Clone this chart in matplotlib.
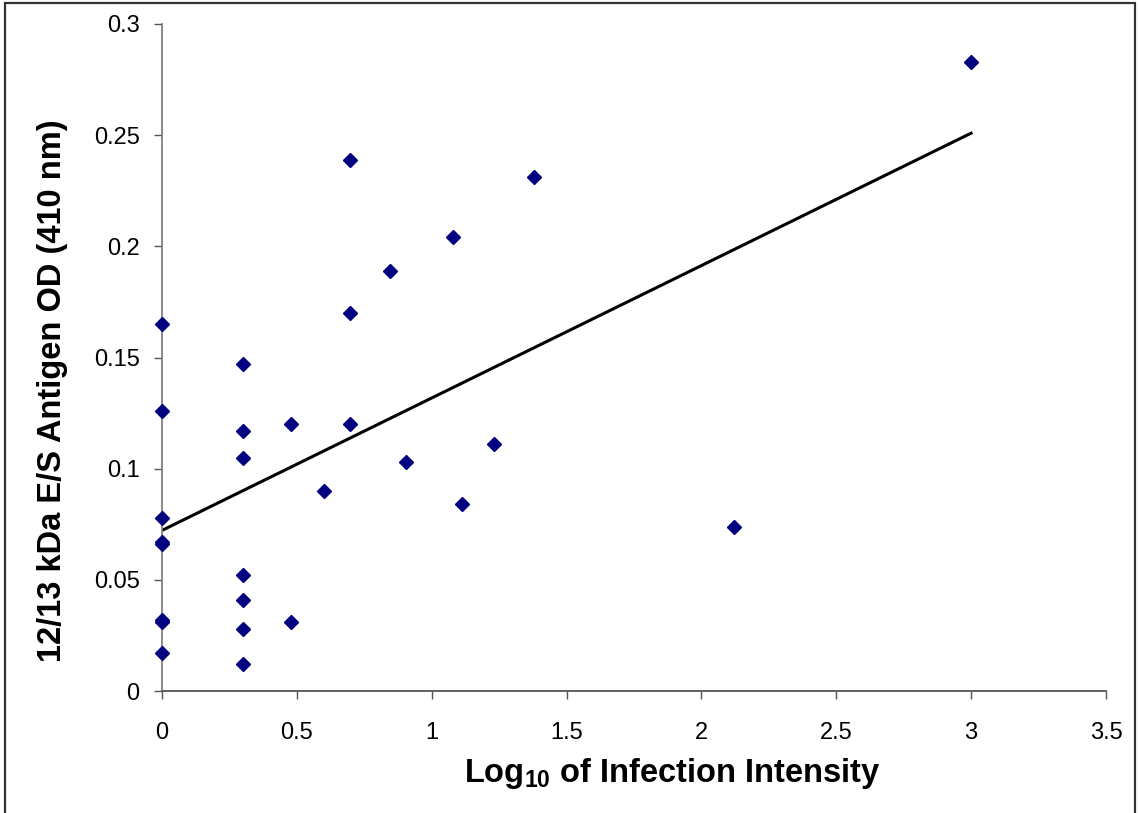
import matplotlib.pyplot as plt
import numpy as np
from matplotlib.patches import Rectangle
from matplotlib.ticker import FuncFormatter

plt.rcParams['font.family'] = ['Liberation Sans', 'DejaVu Sans']
plt.rcParams['mathtext.fontset'] = 'custom'
plt.rcParams['mathtext.rm'] = 'Liberation Sans'
plt.rcParams['mathtext.bf'] = 'Liberation Sans:bold'

# log10 of infection intensity vs antigen OD
log_intensity = [0, 0, 0, 0, 0, 0, 0, 0,
                 0.301, 0.301, 0.301, 0.301, 0.301, 0.301, 0.301,
                 0.477, 0.477, 0.602, 0.699, 0.699, 0.699,
                 0.845, 0.903, 1.079, 1.114, 1.230, 1.380, 2.121, 3.0]
od_410 = [0.165, 0.126, 0.078, 0.067, 0.066, 0.032, 0.031, 0.017,
          0.147, 0.117, 0.105, 0.052, 0.041, 0.028, 0.012,
          0.120, 0.031, 0.090, 0.239, 0.170, 0.120,
          0.189, 0.103, 0.204, 0.084, 0.111, 0.231, 0.074, 0.283]

x = np.array(log_intensity)
y = np.array(od_410)
slope, intercept = np.polyfit(x, y, 1)

fig = plt.figure(figsize=(11.39, 8.13), dpi=100)
ax = fig.add_axes([0.1422, 0.150, 0.8288, 0.8205])

ax.plot(x, y, 'D', color='#000080', ms=7.3, ls='none', clip_on=False, zorder=3)
xl = np.array([x.min(), x.max()])
ax.plot(xl, intercept + slope * xl, color='black', lw=2.2)

ax.set_xlim(0, 3.5)
ax.set_ylim(0, 0.3)
ax.set_xticks(np.arange(0, 3.51, 0.5))
ax.set_yticks(np.arange(0, 0.301, 0.05))
fmt = FuncFormatter(lambda v, p: '%g' % round(v, 3))
ax.xaxis.set_major_formatter(fmt)
ax.yaxis.set_major_formatter(fmt)
ax.tick_params(direction='out', length=6, width=1, labelsize=17, color='#555555')
ax.tick_params(axis='y', pad=10)
ax.tick_params(axis='x', pad=16)

for s in ['top', 'right']:
    ax.spines[s].set_visible(False)
ax.spines['left'].set_color('#808080')
ax.spines['bottom'].set_color('#555555')
ax.spines['left'].set_linewidth(1.3)
ax.spines['bottom'].set_linewidth(1.3)

ax.set_xlabel(r'Log$_\mathbf{10}$ of Infection Intensity', fontsize=23.5, fontweight='bold')
ax.set_ylabel('12/13 kDa E/S Antigen OD (410 nm)', fontsize=23.5, fontweight='bold')
ax.xaxis.set_label_coords(0.540, -0.097)
ax.yaxis.set_label_coords(-0.0996, 0.451)

fig.patches.append(Rectangle((0.0044, -0.05), 0.9921, 1.0463, transform=fig.transFigure,
                             fill=False, edgecolor='#333333', lw=1.6))

fig.savefig('out.png', dpi=100)
